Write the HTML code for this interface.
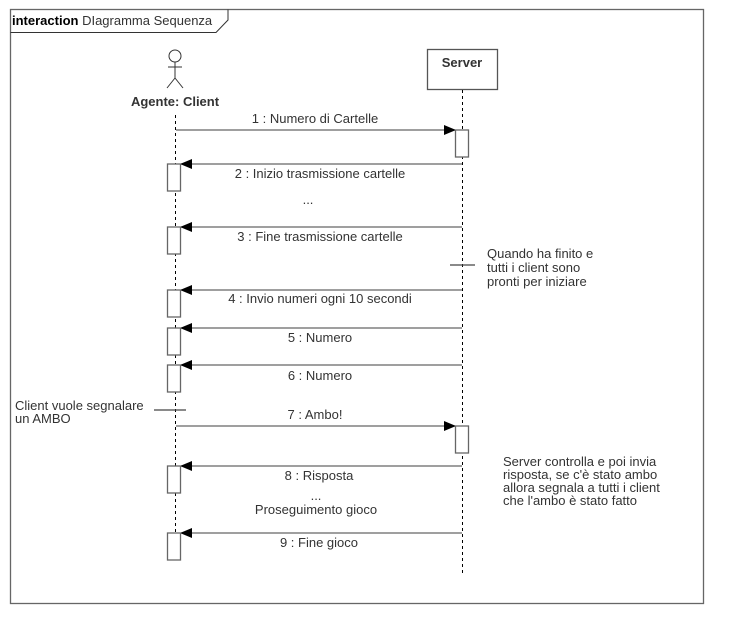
<!DOCTYPE html>
<html><head><meta charset="utf-8"><style>
html,body{margin:0;padding:0;background:#fff}
svg{display:block}
text{font-family:"Liberation Sans",sans-serif;font-size:13px;fill:#333}
</style></head><body>
<svg width="744" height="644" viewBox="0 0 744 644" xmlns="http://www.w3.org/2000/svg">
<defs>
<marker id="ah" markerWidth="12" markerHeight="10" refX="11" refY="5" orient="auto" markerUnits="userSpaceOnUse">
<path d="M0,0 L12,5 L0,10 Z" fill="#000"/>
</marker>
</defs>
<rect x="10.5" y="9.5" width="693" height="594" fill="none" stroke="#666" stroke-width="1.3"/>
<path d="M10.5,32.5 H216 L228,20 V9.5" fill="none" stroke="#333" stroke-width="1"/>
<text x="12" y="25"><tspan font-weight="bold" fill="#000">interaction</tspan> DIagramma Sequenza</text>

<g stroke="#333" fill="none" stroke-width="1">
<circle cx="175" cy="56" r="6" fill="#fff"/>
<line x1="175" y1="62" x2="175" y2="78"/>
<line x1="168" y1="67" x2="182" y2="67"/>
<line x1="175" y1="78" x2="167" y2="88"/>
<line x1="175" y1="78" x2="183" y2="88"/>
</g>
<text x="175" y="106" text-anchor="middle" font-weight="bold" fill="#222">Agente: Client</text>

<rect x="427.5" y="49.5" width="70" height="40" fill="#fff" stroke="#555" stroke-width="1.3"/>
<text x="462" y="67" text-anchor="middle" font-weight="bold" fill="#222">Server</text>

<line x1="175.5" y1="115" x2="175.5" y2="560" stroke="#000" stroke-dasharray="3,3"/>
<line x1="462.5" y1="90" x2="462.5" y2="574" stroke="#000" stroke-dasharray="3,3"/>

<g stroke="#666" stroke-width="1.3" fill="none">
<line x1="176" y1="130" x2="455" y2="130" marker-end="url(#ah)"/>
<line x1="462" y1="164" x2="181" y2="164" marker-end="url(#ah)"/>
<line x1="462" y1="227" x2="181" y2="227" marker-end="url(#ah)"/>
<line x1="462" y1="290" x2="181" y2="290" marker-end="url(#ah)"/>
<line x1="462" y1="328" x2="181" y2="328" marker-end="url(#ah)"/>
<line x1="462" y1="365" x2="181" y2="365" marker-end="url(#ah)"/>
<line x1="176" y1="426" x2="455" y2="426" marker-end="url(#ah)"/>
<line x1="462" y1="466" x2="181" y2="466" marker-end="url(#ah)"/>
<line x1="462" y1="533" x2="181" y2="533" marker-end="url(#ah)"/>
<line x1="450" y1="265" x2="475" y2="265" stroke="#444"/>
<line x1="154" y1="410" x2="186" y2="410" stroke="#444"/>
</g>
<g stroke="#666" stroke-width="1.3" fill="#fff">
<rect x="455.5" y="130" width="13" height="27"/>
<rect x="455.5" y="426" width="13" height="27"/>
<rect x="167.5" y="164" width="13" height="27"/>
<rect x="167.5" y="227" width="13" height="27"/>
<rect x="167.5" y="290" width="13" height="27"/>
<rect x="167.5" y="328" width="13" height="27"/>
<rect x="167.5" y="365" width="13" height="27"/>
<rect x="167.5" y="466" width="13" height="27"/>
<rect x="167.5" y="533" width="13" height="27"/>
</g>

<g text-anchor="middle">
<text x="315" y="123">1 : Numero di Cartelle</text>
<text x="320" y="178">2 : Inizio trasmissione cartelle</text>
<text x="308" y="204">...</text>
<text x="320" y="241">3 : Fine trasmissione cartelle</text>
<text x="320" y="303">4 : Invio numeri ogni 10 secondi</text>
<text x="320" y="342">5 : Numero</text>
<text x="320" y="380">6 : Numero</text>
<text x="315" y="419">7 : Ambo!</text>
<text x="319" y="480">8 : Risposta</text>
<text x="316" y="500">...</text>
<text x="316" y="514">Proseguimento gioco</text>
<text x="319" y="547">9 : Fine gioco</text>
</g>
<text x="487" y="258">Quando ha finito e</text>
<text x="487" y="272">tutti i client sono</text>
<text x="487" y="286">pronti per iniziare</text>
<text x="15" y="410">Client vuole segnalare</text>
<text x="15" y="423">un AMBO</text>
<text x="503" y="466">Server controlla e poi invia</text>
<text x="503" y="479">risposta, se c'è stato ambo</text>
<text x="503" y="492">allora segnala a tutti i client</text>
<text x="503" y="505">che l'ambo è stato fatto</text>
</svg>
</body></html>
